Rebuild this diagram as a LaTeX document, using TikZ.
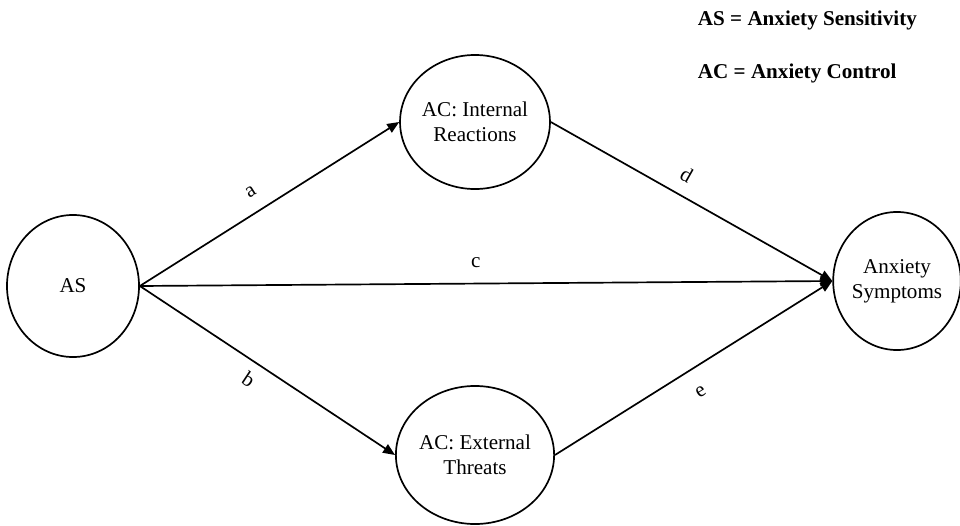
\documentclass[tikz,border=0pt]{standalone}
\usepackage{fontspec}
\setmainfont{Liberation Serif}
\usetikzlibrary{shapes.geometric,arrows.meta,positioning}
\tikzset{
  >={Triangle[length=8.5pt,width=7pt]},
  var/.style={draw,ellipse,line width=1.2pt,align=center,inner sep=0pt,minimum width=3.125cm,minimum height=3.35cm},
  link/.style={->,line width=1.2pt},
  key/.style={anchor=base west,font=\fontsize{15}{17}\selectfont\bfseries}
}

\begin{document}
\begin{tikzpicture}[x=0.025cm,y=-0.025cm,font=\fontsize{15}{17.5}\selectfont]
\useasboundingbox (0,0) rectangle (960,526);
\node[var,minimum width=3.3cm,minimum height=3.55cm](as)at(73,286){AS};
\node[var](int)at(475,122){AC: Internal\\Reactions};
\node[var,minimum height=3.45cm](ext)at(475,455){AC: External\\Threats};
\node[var,minimum width=3.05cm,minimum height=3.45cm](anx)at(897,281){Anxiety\\Symptoms};
\draw[link](as.east)--node[pos=0.47,sloped,above=7pt]{a}(int.west);
\draw[link](as.east)--node[pos=0.465,sloped,below=3.5pt]{b}(ext.west);
\draw[link](as.east)--node[pos=0.485,above=7pt]{c}(anx.west);
\draw[link](int.east)--node[pos=0.447,sloped,above=5.5pt]{d}(anx.west);
\draw[link](ext.east)--node[pos=0.48,sloped,below=9.5pt]{e}(anx.west);
\node[key](keyas)at(693,25){AS = Anxiety Sensitivity};
\node[key](keyac)at(693,78){AC = Anxiety Control};
\end{tikzpicture}
\end{document}
